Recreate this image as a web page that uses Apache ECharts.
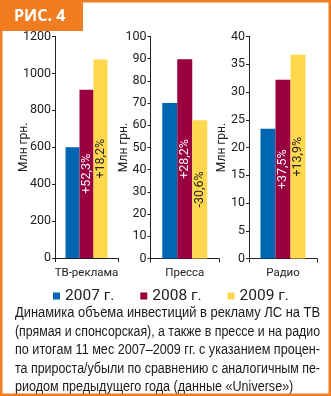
<!DOCTYPE html>
<html><head><meta charset="utf-8">
<script src="https://cdn.jsdelivr.net/npm/echarts@6/dist/echarts.min.js"></script>
<style>html,body{margin:0;padding:0;background:#fff;}#c{width:331px;height:396px;}</style>
</head><body><div id="c"></div>
<script>
const categories = ['ТВ-реклама', 'Пресса', 'Радио'];
const years = ['2007 г.', '2008 г.', '2009 г.'];
const v2007 = [600, 70, 23.4];
const v2008 = [912, 89.7, 32.2];
const v2009 = [1076, 62.3, 36.7];
const change2008 = ['+52,3%', '+28,2%', '+37,5%'];
const change2009 = ['+18,2%', '-30,6%', '+13,9%'];
const yMax = [1200, 100, 40];
const yInterval = [200, 10, 5];
const yName = 'Млн грн.';
const title = 'РИС. 4';
const captionLines = [
  'Динамика объема инвестиций в рекламу ЛС на ТВ',
  '(прямая и спонсорская), а также в прессе и на радио',
  'по итогам 11 мес 2007–2009 гг. с указанием процен-',
  'та прироста/убыли по сравнению с аналогичным пе-',
  'риодом предыдущего года (данные «Universe»)'
];

const colors = ['#0066b3', '#9a003f', '#ffd84d'];
const orange = '#f07d22';
const FONT = 'Roboto, "Liberation Sans", sans-serif';
const grids = [
  {left: 55, top: 36.5, width: 63, height: 221.5},
  {left: 150.5, top: 36.5, width: 68.5, height: 222},
  {left: 249, top: 36.5, width: 68, height: 222}
];
const nameGaps = [25, 20.5, 21];
const barWidths = [14, 15, 15];

const chart = echarts.init(document.getElementById('c'), null, {renderer: 'canvas'});

const xAxis = [], yAxis = [], series = [];
categories.forEach((cat, i) => {
  xAxis.push({
    type: 'category', gridIndex: i, data: [cat],
    axisLine: {lineStyle: {color: '#222', width: 1}},
    axisTick: {show: true, length: 4, lineStyle: {color: '#222'}},
    axisLabel: {color: '#222', fontSize: 11.5, margin: 9, fontFamily: FONT}
  });
  yAxis.push({
    type: 'value', gridIndex: i, min: 0, max: yMax[i], interval: yInterval[i],
    name: yName, nameLocation: 'middle', nameGap: nameGaps[i], nameRotate: 90,
    nameMoveOverlap: false,
    nameTextStyle: {color: '#222', fontSize: 12, fontFamily: FONT},
    axisLine: {show: true, lineStyle: {color: '#222', width: 1}},
    axisTick: {show: true, length: 3, inside: false, lineStyle: {color: '#222'}},
    splitLine: {show: false},
    axisLabel: {color: '#222', fontSize: 12.5, margin: 4, fontFamily: FONT, formatter: v => String(v)}
  });
  const vals = [v2007[i], v2008[i], v2009[i]];
  const labs = [null, change2008[i], change2009[i]];
  const labColors = [null, '#ffffff', '#222222'];
  years.forEach((y, k) => {
    series.push({
      type: 'bar', name: y, xAxisIndex: i, yAxisIndex: i,
      data: [vals[k]], barWidth: barWidths[i], barGap: '0%',
      itemStyle: {color: colors[k]},
      label: labs[k] ? {
        show: true, position: 'inside', rotate: 90,
        formatter: () => labs[k], color: labColors[k],
        fontSize: 12.5, fontFamily: FONT
      } : {show: false},
      animation: false
    });
  });
});

// measure caption widths
const ctx = document.createElement('canvas').getContext('2d');
const capFont = '14px "Liberation Sans", Arial, sans-serif';
ctx.font = capFont;
const targetW = 305;
const scales = captionLines.map(l => targetW / ctx.measureText(l).width);
const avgScale = scales.slice(0, 4).reduce((a, b) => a + b, 0) / 4;
const capY = [313, 332, 350.5, 369, 387.5];
const captionGraphics = captionLines.map((l, i) => ({
  type: 'text', x: 15, y: capY[i], originX: 0, originY: 0,
  scaleX: i < 4 ? scales[i] : avgScale,
  style: {text: l, font: capFont, fill: '#1a1a1a', verticalAlign: 'middle'}
}));

chart.setOption({
  animation: false,
  color: colors,
  grid: grids,
  xAxis, yAxis, series,
  legend: {
    data: years, left: 48, top: 283, itemWidth: 7, itemHeight: 7, itemGap: 26,
    icon: 'rect', textStyle: {fontSize: 15.5, color: '#222', fontFamily: FONT}
  },
  graphic: [
    {type: 'rect', shape: {x: 0, y: 0, width: 331, height: 396}, style: {fill: 'none', stroke: orange, lineWidth: 5}, z: 100},
    {type: 'rect', shape: {x: 0, y: 0, width: 83, height: 31}, style: {fill: orange}, z: 100},
    {type: 'text', x: 14, y: 16, z: 101, style: {text: title, font: 'bold 16px "Open Sans", "DejaVu Sans", sans-serif', fill: '#fff', verticalAlign: 'middle'}}
  ].concat(captionGraphics)
});
</script></body></html>
